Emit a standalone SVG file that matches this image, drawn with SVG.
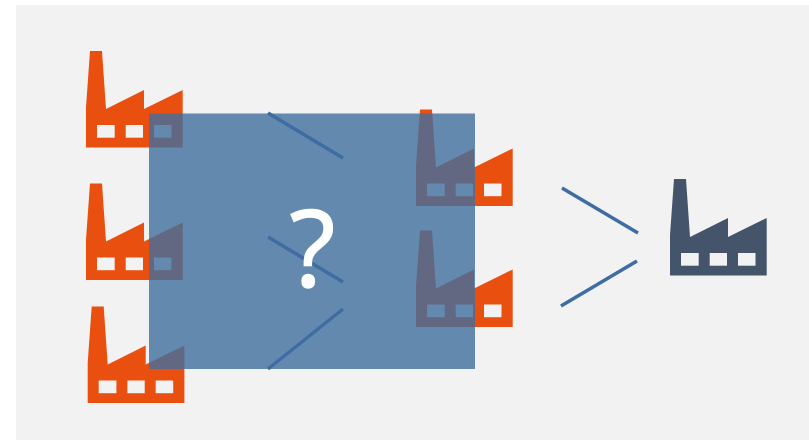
<svg xmlns="http://www.w3.org/2000/svg" width="809" height="440" viewBox="0 0 809 440">
<style>
.win{fill:#f2f2f2}
.o{fill:#e9500f}
.d{fill:#44546a}
.ln{stroke:#3f6ca3;stroke-width:3.5;fill:none;stroke-linecap:butt}
.q{font-family:"Open Sans",sans-serif;font-size:106px;font-weight:400;fill:#fff;stroke:#fff;stroke-width:1.5;text-anchor:middle}
</style>
<defs>
<g id="factory">
<path d="M0 56L4 0H16L20 58L58 39V58L96.700 39V96.500H0Z"/>
<rect class="win" x="11" y="74" width="17.700" height="12.700"/>
<rect class="win" x="39.700" y="74" width="17.300" height="12.700"/>
<rect class="win" x="68" y="74" width="17.500" height="12.700"/>
</g>
</defs>
<rect x="0" y="0" width="809" height="440" fill="#fff"/>
<rect x="16" y="5" width="793" height="435" fill="#f2f2f2"/>
<g id="factory-1" class="o"><use href="#factory" x="86" y="51"/></g>
<g id="factory-2" class="o"><use href="#factory" x="86" y="183.500"/></g>
<g id="factory-3" class="o"><use href="#factory" x="87.700" y="306.500"/></g>
<g id="factory-4" class="o"><use href="#factory" x="416" y="109.500"/></g>
<g id="factory-5" class="o"><use href="#factory" x="416" y="230.500"/></g>
<g id="factory-6" class="d"><use href="#factory" x="670" y="179"/></g>
<g id="box"><rect x="149" y="113.500" width="326" height="255.500" fill="#406e9d" fill-opacity="0.8"/></g>
<g id="connectors">
<line class="ln" x1="268" y1="113" x2="343" y2="158"/>
<line class="ln" x1="268" y1="237" x2="343" y2="282"/>
<line class="ln" x1="268" y1="369" x2="343" y2="309"/>
<line class="ln" x1="562" y1="188" x2="638" y2="233"/>
<line class="ln" x1="637" y1="261" x2="561" y2="306"/>
</g>
<g id="label"><text class="q" x="312.500" y="287">?</text></g>
</svg>
